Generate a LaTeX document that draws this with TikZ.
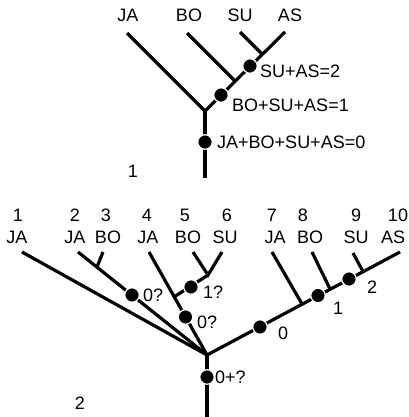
\documentclass[tikz,border=0pt]{standalone}
\usepackage{fontspec}
\setmainfont{Liberation Sans}
\begin{document}
\begin{tikzpicture}[x=1pt,y=-1pt,
  lbl/.style={inner sep=0pt,anchor=base,font=\fontsize{18}{20}\selectfont},
  dlbl/.style={inner sep=0pt,anchor=base west,font=\fontsize{18}{20}\selectfont},
  edge/.style={line width=3.2pt},
  dot/.style={circle,fill=black,draw=white,line width=1.2pt,minimum size=14.5pt,inner sep=0pt}]
\useasboundingbox (0,0) rectangle (408,417);
% ---------- tree 1 ----------
\node[lbl] (tJA) at (128,22) {JA};
\node[lbl] (tBO) at (189,22) {BO};
\node[lbl] (tSU) at (240,22) {SU};
\node[lbl] (tAS) at (290,22) {AS};
\coordinate (aJA) at (127,33);
\coordinate (aBO) at (187,33);
\coordinate (aSU) at (240,32);
\coordinate (aAS) at (285,32);
\coordinate (r1) at (205,111);
\coordinate (b1) at (205,178);
\coordinate (jBO) at (235,81);
\coordinate (jSU) at (262,54);
\draw[edge] (aJA) -- (r1) -- (aAS);
\draw[edge] (r1) -- (b1);
\draw[edge] (aBO) -- (jBO);
\draw[edge] (aSU) -- (jSU);
\node[dot] (d1) at (250,66) {};
\node[dot] (d2) at (221,95) {};
\node[dot] (d3) at (205,142) {};
\node[dlbl] (l1) at (260,78) {SU+AS=2};
\node[dlbl] (l2) at (232,111) {BO+SU+AS=1};
\node[dlbl] (l3) at (217,148) {JA+BO+SU+AS=0};
\node[lbl] (n1) at (133,177) {1};
% ---------- tree 2 ----------
\foreach \n/\x in {1/18,2/75,3/106,4/147,5/185,6/227,7/272,8/303,9/356,10/398}
  \node[lbl] (num\n) at (\x,221) {\n};
\node[lbl] (s1) at (17,243) {JA};
\node[lbl] (s2) at (75,243) {JA};
\node[lbl] (s3) at (108,243) {BO};
\node[lbl] (s4) at (148,243) {JA};
\node[lbl] (s5) at (188,243) {BO};
\node[lbl] (s6) at (225,243) {SU};
\node[lbl] (s7) at (275,243) {JA};
\node[lbl] (s8) at (310,243) {BO};
\node[lbl] (s9) at (356,243) {SU};
\node[lbl] (s10) at (393,243) {AS};
\coordinate (r2) at (207,355);
\coordinate (b2) at (207,417);
\coordinate (e1) at (22,252);
\coordinate (e2) at (78,252);
\coordinate (e3) at (103,252);
\coordinate (j3) at (97,267);
\coordinate (e4) at (149,252);
\coordinate (j56) at (174,297);
\coordinate (k56) at (208,275);
\coordinate (e5) at (193,252);
\coordinate (e6) at (222,252);
\coordinate (e10) at (400,252);
\coordinate (e7) at (272,252);
\coordinate (j7) at (302,304);
\coordinate (e8) at (312,252);
\coordinate (j8) at (330,289);
\coordinate (e9) at (353,253);
\coordinate (j9) at (363,271.5);
\draw[edge] (r2) -- (b2);
\draw[edge] (e1) -- (r2);
\draw[edge] (e2) -- (r2);
\draw[edge] (e3) -- (j3);
\draw[edge] (e4) -- (r2);
\draw[edge] (j56) -- (k56);
\draw[edge] (e5) -- (k56) -- (e6);
\draw[edge] (r2) -- (e10);
\draw[edge] (e7) -- (j7);
\draw[edge] (e8) -- (j8);
\draw[edge] (e9) -- (j9);
\node[dot] (f1) at (132,295) {};
\node[dot] (f2) at (185.5,317) {};
\node[dot] (f3) at (191,287) {};
\node[dot] (f4) at (260,327) {};
\node[dot] (f5) at (318,295.5) {};
\node[dot] (f6) at (349,279) {};
\node[dot] (f7) at (207,377) {};
\node[dlbl] (g1) at (143,301) {0?};
\node[dlbl] (g2) at (197,328) {0?};
\node[dlbl] (g3) at (203,298) {1?};
\node[dlbl] (g4) at (278,339) {0};
\node[dlbl] (g5) at (333,314) {1};
\node[dlbl] (g6) at (367,293) {2};
\node[dlbl] (g7) at (215,383) {0+?};
\node[lbl] (n2) at (80,409) {2};
\end{tikzpicture}
\end{document}
